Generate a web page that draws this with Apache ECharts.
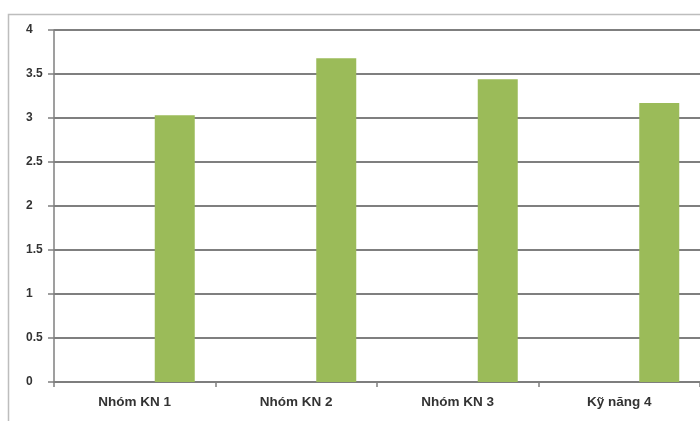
<!DOCTYPE html>
<html>
<head>
<meta charset="utf-8">
<style>
  html, body { margin: 0; padding: 0; background: #fff; }
  #chart { width: 700px; height: 421px; }
</style>
<script src="https://cdn.jsdelivr.net/npm/echarts@6/dist/echarts.min.js"></script>
</head>
<body>
<div id="chart"></div>
<script>
// Skill groups on the category axis
const categories = ['Nhóm KN 1', 'Nhóm KN 2', 'Nhóm KN 3', 'Kỹ năng 4'];
// Clustered layout: two empty series slots, the third holds the scores
const series1 = ['-', '-', '-', '-'];
const series2 = ['-', '-', '-', '-'];
const series3 = [3.03, 3.68, 3.44, 3.17];
// Value axis ticks
const yTicks = [0, 0.5, 1, 1.5, 2, 2.5, 3, 3.5, 4];

const chart = echarts.init(document.getElementById('chart'), null, { renderer: 'canvas' });

const fontFamily = 'Liberation Sans, Arial, sans-serif';

chart.setOption({
  animation: false,
  backgroundColor: '#ffffff',
  graphic: [{
    type: 'rect',
    shape: { x: 8.5, y: 14.5, width: 900, height: 900 },
    style: { fill: 'none', stroke: '#bdbdbd', lineWidth: 1.5 },
    silent: true,
    z: -10
  }],
  grid: { left: 54, top: 30, right: -2, bottom: 39, containLabel: false },
  xAxis: {
    type: 'category',
    data: categories,
    axisLine: { show: true, lineStyle: { color: '#7f7f7f', width: 1.5 } },
    axisTick: { show: true, length: 5, lineStyle: { color: '#7f7f7f', width: 1.5 } },
    axisLabel: {
      margin: 13,
      fontFamily: fontFamily,
      fontWeight: 'bold',
      fontSize: 13.5,
      color: '#333333'
    },
    splitLine: { show: false }
  },
  yAxis: {
    type: 'value',
    min: yTicks[0],
    max: yTicks[yTicks.length - 1],
    interval: 0.5,
    axisLine: { show: true, lineStyle: { color: '#7f7f7f', width: 1.5 } },
    axisTick: { show: true, length: 6, lineStyle: { color: '#7f7f7f', width: 1.5 } },
    axisLabel: {
      margin: 28,
      align: 'left',
      formatter: v => String(v),
      fontFamily: fontFamily,
      fontWeight: 'bold',
      fontSize: 12,
      color: '#333333'
    },
    splitLine: { show: true, lineStyle: { color: '#7f7f7f', width: 1.8 } }
  },
  series: [
    { type: 'bar', data: series1, barWidth: 40, barGap: '0%', itemStyle: { color: '#4F81BD' } },
    { type: 'bar', data: series2, barWidth: 40, barGap: '0%', itemStyle: { color: '#C0504D' } },
    { type: 'bar', data: series3, barWidth: 40, barGap: '0%', itemStyle: { color: '#9BBB59' } }
  ]
});
</script>
</body>
</html>
